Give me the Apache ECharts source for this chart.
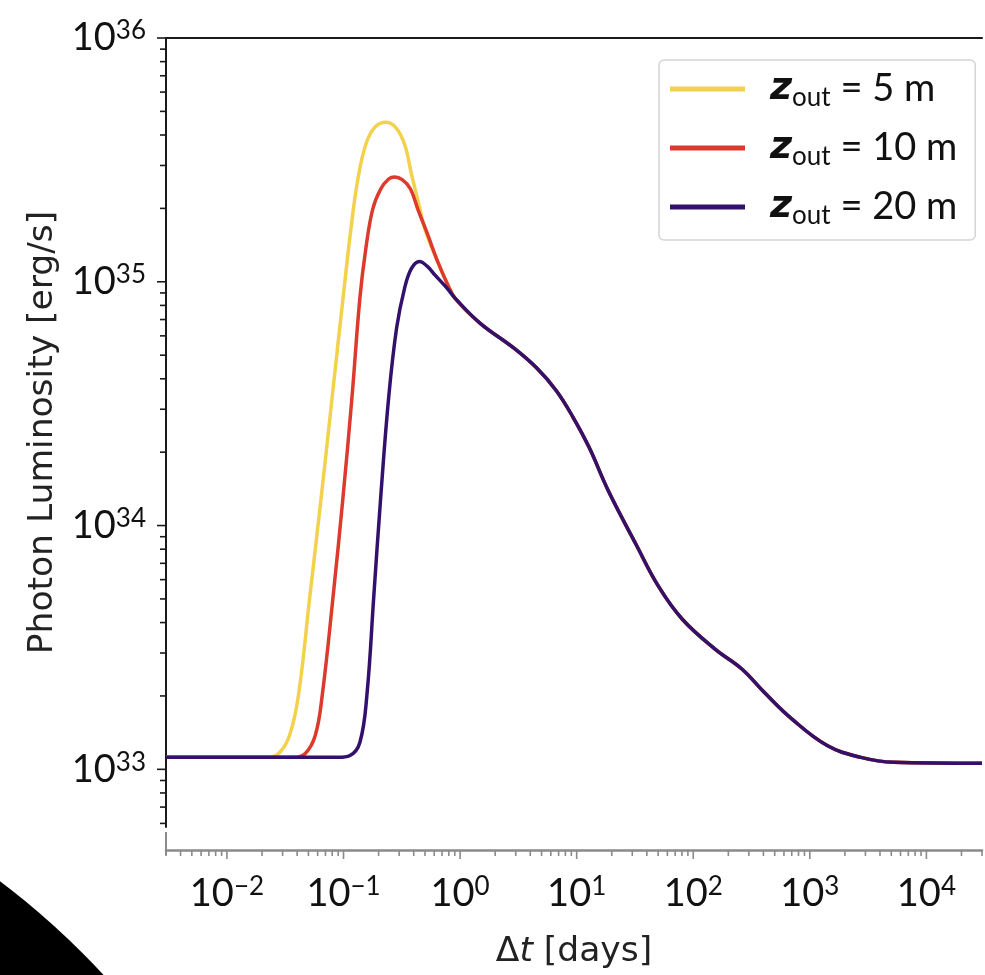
<!DOCTYPE html>
<html>
<head>
<meta charset="utf-8">
<script src="https://cdn.jsdelivr.net/npm/echarts@6/dist/echarts.min.js"></script>
<style>
  html, body { margin: 0; padding: 0; background: #ffffff; }
  #chart { width: 985px; height: 975px; }
</style>
</head>
<body>
<div id="chart"></div>
<script>
// Photon light curves after the event: time in days, luminosity in erg/s.

// Quiescent level before the rise (common to all depths)
const tQuiet = [0.003, 0.0154];
const lQuiet = [1.12e33, 1.12e33];

// Rise and peak, z_out = 5 m
const tRise5 = [0.0228, 0.0283, 0.0344, 0.041, 0.0514, 0.0644, 0.0798, 0.099, 0.1158, 0.1328, 0.1554, 0.1853, 0.23, 0.2798, 0.3338, 0.3828, 0.4478, 0.5036];
const lRise5 = [1.12e33, 1.173e33, 1.376e33, 2.003e33, 5.12e33, 1.309e34, 3.347e34, 8.556e34, 1.651e35, 2.639e35, 3.666e35, 4.3e35, 4.508e35, 4.3e35, 3.666e35, 2.766e35, 2.03e35, 1.62e35];

// Rise and peak, z_out = 10 m
const tRise10 = [0.0372, 0.047, 0.0572, 0.0656, 0.0814, 0.099, 0.1181, 0.1381, 0.1554, 0.1783, 0.2085, 0.2439, 0.2744, 0.3209, 0.3753, 0.4391, 0.5238];
const lRise10 = [1.12e33, 1.162e33, 1.376e33, 2.003e33, 5.12e33, 1.309e34, 3.347e34, 8.556e34, 1.369e35, 1.992e35, 2.403e35, 2.639e35, 2.69e35, 2.616e35, 2.403e35, 1.955e35, 1.575e35];

// Decline shared by 5 m and 10 m before it meets the 20 m curve
const tShared = [0.637, 0.775];
const lShared = [1.222e35, 9.85e34];

// Rise and peak, z_out = 20 m
const tRise20 = [0.0898, 0.1136, 0.1381, 0.1585, 0.1818, 0.2085, 0.2439, 0.2853, 0.3338, 0.3828, 0.4478, 0.5238, 0.6127, 0.775];
const lRise20 = [1.12e33, 1.14e33, 1.289e33, 2.003e33, 5.12e33, 1.309e34, 3.347e34, 6.457e34, 9.4e34, 1.134e35, 1.211e35, 1.156e35, 1.062e35, 9.4e34];

// Common late-time tail
const tTail = [0.9067, 1.48, 2.881, 4.522, 6.692, 9.337, 12.78, 18.91, 32.09, 50.37, 80.6, 153.9, 261.2, 410.1, 696, 1409, 2744, 5238, 30000];
const lTail = [8.556e34, 6.77e34, 5.353e34, 4.436e34, 3.575e34, 2.774e34, 2.093e34, 1.372e34, 8.42e33, 5.626e33, 4.127e33, 3.114e33, 2.581e33, 2.06e33, 1.614e33, 1.252e33, 1.119e33, 1.068e33, 1.058e33];

const seriesNames = ['5 m', '10 m', '20 m'];
const seriesColors = ['#F2D24C', '#DC3A2C', '#33106B'];

// Axis ranges and labelled decades
const xRange = [0.003, 30000];
const yRange = [5.8e32, 1e36];
const xTickExponents = [-2, -1, 0, 1, 2, 3, 4];
const yTickExponents = [33, 34, 35, 36];

function pairs(ts, ls) { return ts.map((t, i) => [t, ls[i]]); }

const curve5 = [].concat(pairs(tQuiet, lQuiet), pairs(tRise5, lRise5), pairs(tShared, lShared), pairs(tTail, lTail));
const curve10 = [].concat(pairs(tQuiet, lQuiet), pairs(tRise10, lRise10), pairs(tShared, lShared), pairs(tTail, lTail));
const curve20 = [].concat(pairs(tQuiet, lQuiet), pairs(tRise20, lRise20), pairs(tTail, lTail));
const curves = [curve5, curve10, curve20];

// Decade and sub-decade tick values inside a range
function majorTicks(range) {
  const out = [];
  for (let e = Math.ceil(Math.log10(range[0]) - 1e-9); Math.pow(10, e) <= range[1] * (1 + 1e-9); e++) out.push(Math.pow(10, e));
  return out;
}
function minorTicks(range) {
  const out = [];
  for (let e = Math.floor(Math.log10(range[0])); e <= Math.ceil(Math.log10(range[1])); e++) {
    for (let k = 2; k <= 9; k++) {
      const v = k * Math.pow(10, e);
      if (v >= range[0] * (1 - 1e-9) && v <= range[1] * (1 + 1e-9)) out.push(v);
    }
  }
  return out;
}

function powLabel(exps) {
  return function (v) {
    const e = Math.log10(v);
    const r = Math.round(e);
    if (Math.abs(e - r) > 1e-6 || exps.indexOf(r) < 0) return '';
    return '{b|10}{s|' + String(r).replace('-', '\u2212') + '}';
  };
}

const labelRich = {
  b: { fontFamily: 'Lato', fontSize: 38, lineHeight: 40, color: '#111' },
  s: { fontFamily: 'Lato', fontSize: 26, lineHeight: 26, verticalAlign: 'top', color: '#111' }
};

const AXIS_GAP = 23; // x axis sits below the bottom of the plotting area

function yTickSeries(values, len) {
  return {
    type: 'custom', xAxisIndex: 0, yAxisIndex: 0, silent: true, clip: false, z: 5,
    data: values.map(v => [xRange[0], v]),
    renderItem: function (params, api) {
      const p = api.coord([api.value(0), api.value(1)]);
      return { type: 'line', shape: { x1: p[0] - len, y1: p[1], x2: p[0], y2: p[1] },
        style: { stroke: '#1a1a1a', lineWidth: 1.6 } };
    }
  };
}
function xTickSeries(values, len) {
  return {
    type: 'custom', xAxisIndex: 0, yAxisIndex: 0, silent: true, clip: false, z: 5,
    data: values.map(v => [v, yRange[0]]),
    renderItem: function (params, api) {
      const p = api.coord([api.value(0), api.value(1)]);
      const y0 = p[1] + AXIS_GAP;
      return { type: 'line', shape: { x1: p[0], y1: y0, x2: p[0], y2: y0 + len },
        style: { stroke: '#8a8a8a', lineWidth: 1.6 } };
    }
  };
}

const chart = echarts.init(document.getElementById('chart'), null, { renderer: 'canvas' });

const lineSeries = seriesNames.map((name, i) => ({
  name: name,
  type: 'line',
  data: curves[i],
  showSymbol: false,
  symbol: 'none',
  smooth: 0.4,
  clip: true,
  z: 3 + i,
  lineStyle: { color: seriesColors[i], width: 3.5 },
  itemStyle: { color: seriesColors[i] }
}));

chart.setOption({
  animation: false,
  backgroundColor: '#ffffff',
  grid: { left: 166, top: 38, right: -4, bottom: 143, containLabel: false },
  xAxis: [
    {
      type: 'log', logBase: 10, min: xRange[0], max: xRange[1], position: 'bottom', offset: AXIS_GAP,
      axisLine: { show: true, onZero: false, lineStyle: { color: '#8a8a8a', width: 2.5 } },
      axisTick: { show: false }, splitLine: { show: false },
      axisLabel: { margin: 24, formatter: powLabel(xTickExponents), rich: labelRich },
      name: '{d|\u0394}{i|t}{d| [days]}', nameLocation: 'middle', nameGap: 85,
      nameTextStyle: {
        rich: {
          d: { fontFamily: 'DejaVu Sans', fontSize: 34.5, color: '#222' },
          i: { fontFamily: 'DejaVu Sans', fontStyle: 'italic', fontSize: 34.5, color: '#222' }
        }
      }
    },
    {
      type: 'log', logBase: 10, min: xRange[0], max: xRange[1], position: 'top',
      axisLine: { show: true, onZero: false, lineStyle: { color: '#1a1a1a', width: 2 } },
      axisTick: { show: false }, axisLabel: { show: false }, splitLine: { show: false }
    }
  ],
  yAxis: {
    type: 'log', logBase: 10, min: yRange[0], max: yRange[1],
    axisLine: { show: true, onZero: false, lineStyle: { color: '#1a1a1a', width: 2 } },
    axisTick: { show: false }, splitLine: { show: false },
    axisLabel: { margin: 20, formatter: powLabel(yTickExponents), rich: labelRich },
    name: 'Photon Luminosity [erg/s]', nameLocation: 'middle', nameGap: 104, nameRotate: 90,
    nameTextStyle: { fontFamily: 'DejaVu Sans', fontSize: 34.5, color: '#222' }
  },
  legend: {
    data: seriesNames,
    orient: 'vertical',
    left: 659, top: 60,
    padding: [10, 18, 11, 11],
    itemGap: 18,
    itemWidth: 75, itemHeight: 5,
    icon: 'rect',
    borderColor: '#d4d4d4', borderWidth: 1.5, borderRadius: 5,
    backgroundColor: '#ffffff',
    selectedMode: false,
    formatter: function (name) { return '{z|z}{o|out}{t| = ' + name + '}'; },
    textStyle: {
      rich: {
        z: { fontFamily: 'DejaVu Sans', fontWeight: 'bold', fontStyle: 'italic', fontSize: 38, lineHeight: 44, color: '#111', padding: [0, 0, 0, 20] },
        o: { fontFamily: 'Lato', fontSize: 26, lineHeight: 26, verticalAlign: 'bottom', color: '#111' },
        t: { fontFamily: 'Lato', fontSize: 38, lineHeight: 44, color: '#111' }
      }
    }
  },
  graphic: [
    { type: 'line', z: 10, shape: { x1: 166, y1: 832, x2: 166, y2: 855 }, style: { stroke: '#8a8a8a', lineWidth: 2 } },
    { type: 'circle', z: 100, shape: { cx: -483, cy: 1519, r: 800 }, style: { fill: '#000000' } }
  ],
  series: lineSeries.concat([
    yTickSeries(majorTicks(yRange), 9),
    yTickSeries(minorTicks(yRange), 6),
    xTickSeries(majorTicks(xRange), 9),
    xTickSeries(minorTicks(xRange), 6)
  ])
});
</script>
</body>
</html>
